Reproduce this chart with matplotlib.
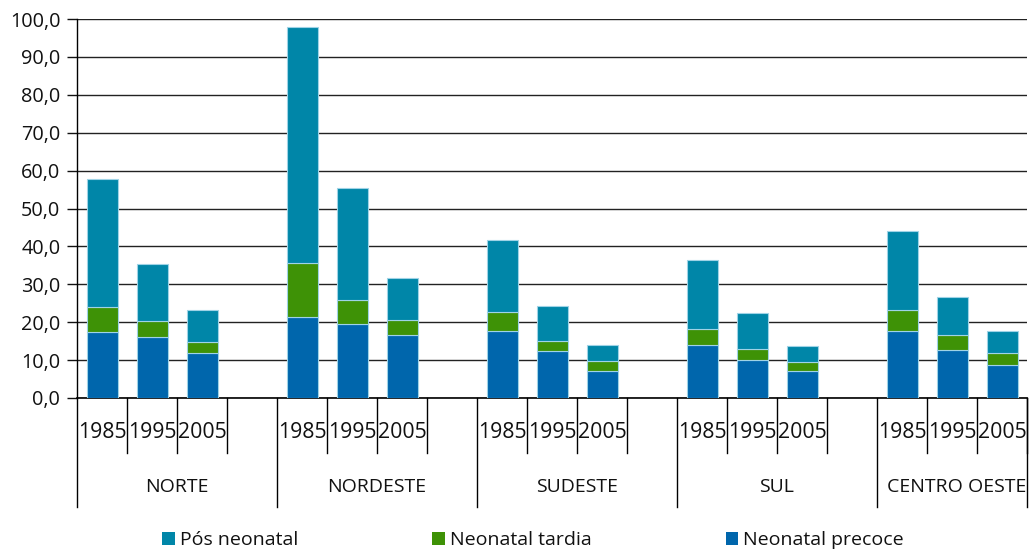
import matplotlib
matplotlib.use("Agg")
import matplotlib.pyplot as plt
from matplotlib.ticker import FixedLocator, FuncFormatter
from matplotlib.patches import Patch
import numpy as np

plt.rcParams['font.family'] = ['Open Sans', 'DejaVu Sans']

regions = ['NORTE', 'NORDESTE', 'SUDESTE', 'SUL', 'CENTRO OESTE']
years = ['1985', '1995', '2005']

# Infant mortality components per region, one value per year (1985, 1995, 2005)
neonatal_precoce = [[17.4, 16.1, 11.8],
                    [21.5, 19.6, 16.5],
                    [17.7, 12.3, 7.0],
                    [14.1, 10.1, 7.0],
                    [17.8, 12.7, 8.8]]
neonatal_tardia = [[6.6, 4.1, 3.0],
                   [14.0, 6.3, 4.1],
                   [5.0, 2.7, 2.8],
                   [4.1, 2.8, 2.5],
                   [5.4, 3.9, 3.2]]
pos_neonatal = [[33.8, 15.2, 8.5],
                [62.5, 29.5, 11.0],
                [19.0, 9.2, 4.3],
                [18.2, 9.5, 4.2],
                [20.9, 10.1, 5.8]]

series_names = ['Pós neonatal', 'Neonatal tardia', 'Neonatal precoce']
series_colors = ['#0086A8', '#3E9206', '#0066AC']
edge_color = '#9FD3E6'

fig = plt.figure(figsize=(10.3, 5.5), dpi=100)
ax = fig.add_axes([77 / 1030, 152 / 550, 950 / 1030, 379 / 550])

n_groups = len(regions)
n_years = len(years)
slots = n_years + 1  # one empty slot between regions

x = np.array([g * slots + j for g in range(n_groups) for j in range(n_years)], dtype=float)
precoce = np.array(neonatal_precoce).ravel()
tardia = np.array(neonatal_tardia).ravel()
pos = np.array(pos_neonatal).ravel()

bw = 0.62
ax.bar(x, precoce, bw, color=series_colors[2], edgecolor=edge_color, linewidth=0.8, zorder=3)
ax.bar(x, tardia, bw, bottom=precoce, color=series_colors[1], edgecolor=edge_color,
       linewidth=0.8, zorder=3)
ax.bar(x, pos, bw, bottom=precoce + tardia, color=series_colors[0], edgecolor=edge_color,
       linewidth=0.8, zorder=3)

x_max = n_groups * slots - 1.5
ax.set_xlim(-0.5, x_max)
ax.set_ylim(0, 100)

ax.yaxis.set_major_locator(FixedLocator(np.arange(0, 101, 10)))
ax.yaxis.set_major_formatter(FuncFormatter(lambda v, p: f"{v:.1f}".replace('.', ',')))
ax.tick_params(axis='y', length=7, width=1, pad=5, labelsize=14.3, colors='#111111')
ax.grid(axis='y', color='#222222', linewidth=1.0, zorder=0)
ax.set_axisbelow(True)

ax.set_xticks([])
for side in ['top', 'right']:
    ax.spines[side].set_visible(False)
ax.spines['left'].set_linewidth(1.0)
ax.spines['bottom'].set_linewidth(1.2)

# Two-level category axis: years below bars, region names below years
trans = ax.get_xaxis_transform()
short_len = 55 / 379
long_len = 109 / 379
for g in range(n_groups):
    start = g * slots - 0.5
    ax.plot([start, start], [0, -long_len], transform=trans, color='black', lw=1.0, clip_on=False)
    for k in range(1, slots):
        b = start + k
        if b > x_max:
            break
        ax.plot([b, b], [0, -short_len], transform=trans, color='black', lw=1.0, clip_on=False)
    for j, yr in enumerate(years):
        ax.text(g * slots + j, -34 / 379, yr, transform=trans, ha='center', va='center',
                fontsize=15.3, color='#111111')
    if g < n_groups - 1:
        ax.text(g * slots + 1.5, -89 / 379, regions[g], transform=trans, ha='center',
                va='center', fontsize=14, color='#111111')
    else:
        ax.text(x_max - 0.02, -89 / 379, regions[g], transform=trans, ha='right',
                va='center', fontsize=14, color='#111111')
ax.plot([x_max, x_max], [0, -long_len], transform=trans, color='black', lw=1.0, clip_on=False)

handles = [Patch(facecolor=c, edgecolor='none') for c in series_colors]
fig.legend(handles, series_names, ncol=3, loc='center', bbox_to_anchor=(533 / 1030, 10 / 550),
           frameon=False, fontsize=14, handlelength=0.65, handleheight=0.65,
           handletextpad=0.25, columnspacing=6.9, labelcolor='#111111')

fig.savefig('out.png', dpi=100)
